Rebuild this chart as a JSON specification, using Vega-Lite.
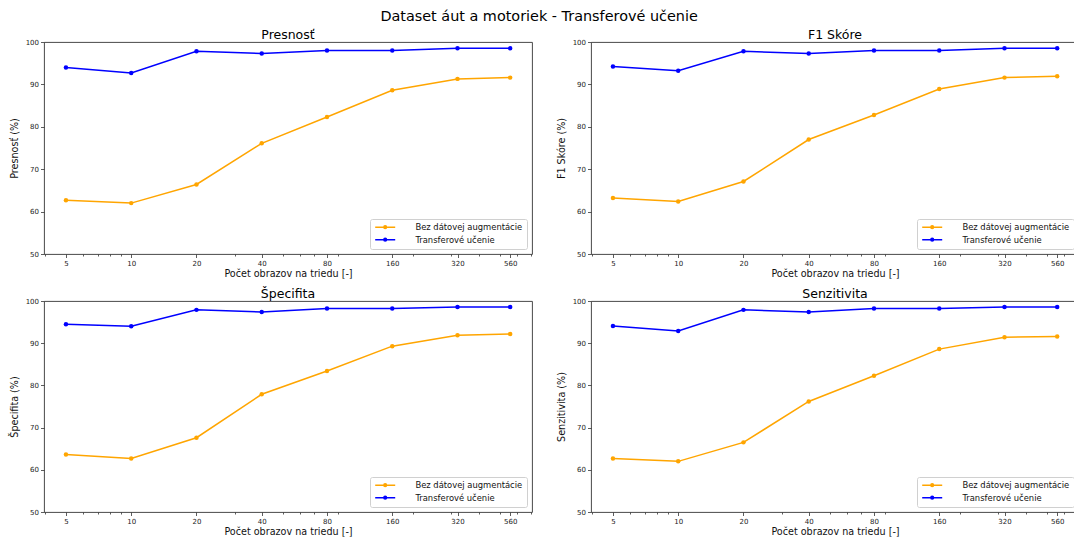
{
  "$schema": "https://vega.github.io/schema/vega-lite/v6.json",
  "background": "white",
  "padding": {"left": 8, "top": 8, "right": -4, "bottom": 2},
  "title": {"text": "Dataset áut a motoriek - Transferové učenie", "anchor": "middle", "fontSize": 14.4, "font": "DejaVu Sans", "fontWeight": "normal", "color": "#000", "offset": 4, "dx": -5},
  "datasets": {
    "d": [
      {"m": "Presnosť", "s": "Transferové učenie", "n": 5, "v": 94.0},
      {"m": "Presnosť", "s": "Transferové učenie", "n": 10, "v": 92.7},
      {"m": "Presnosť", "s": "Transferové učenie", "n": 20, "v": 97.8},
      {"m": "Presnosť", "s": "Transferové učenie", "n": 40, "v": 97.3},
      {"m": "Presnosť", "s": "Transferové učenie", "n": 80, "v": 98.0},
      {"m": "Presnosť", "s": "Transferové učenie", "n": 160, "v": 98.0},
      {"m": "Presnosť", "s": "Transferové učenie", "n": 320, "v": 98.5},
      {"m": "Presnosť", "s": "Transferové učenie", "n": 560, "v": 98.5},
      {"m": "Presnosť", "s": "Bez dátovej augmentácie", "n": 5, "v": 62.7},
      {"m": "Presnosť", "s": "Bez dátovej augmentácie", "n": 10, "v": 62.0},
      {"m": "Presnosť", "s": "Bez dátovej augmentácie", "n": 20, "v": 66.4},
      {"m": "Presnosť", "s": "Bez dátovej augmentácie", "n": 40, "v": 76.1},
      {"m": "Presnosť", "s": "Bez dátovej augmentácie", "n": 80, "v": 82.3},
      {"m": "Presnosť", "s": "Bez dátovej augmentácie", "n": 160, "v": 88.6},
      {"m": "Presnosť", "s": "Bez dátovej augmentácie", "n": 320, "v": 91.3},
      {"m": "Presnosť", "s": "Bez dátovej augmentácie", "n": 560, "v": 91.6},
      {"m": "F1 Skóre", "s": "Transferové učenie", "n": 5, "v": 94.2},
      {"m": "F1 Skóre", "s": "Transferové učenie", "n": 10, "v": 93.2},
      {"m": "F1 Skóre", "s": "Transferové učenie", "n": 20, "v": 97.8},
      {"m": "F1 Skóre", "s": "Transferové učenie", "n": 40, "v": 97.3},
      {"m": "F1 Skóre", "s": "Transferové učenie", "n": 80, "v": 98.0},
      {"m": "F1 Skóre", "s": "Transferové učenie", "n": 160, "v": 98.0},
      {"m": "F1 Skóre", "s": "Transferové učenie", "n": 320, "v": 98.5},
      {"m": "F1 Skóre", "s": "Transferové učenie", "n": 560, "v": 98.5},
      {"m": "F1 Skóre", "s": "Bez dátovej augmentácie", "n": 5, "v": 63.2},
      {"m": "F1 Skóre", "s": "Bez dátovej augmentácie", "n": 10, "v": 62.4},
      {"m": "F1 Skóre", "s": "Bez dátovej augmentácie", "n": 20, "v": 67.1},
      {"m": "F1 Skóre", "s": "Bez dátovej augmentácie", "n": 40, "v": 77.0},
      {"m": "F1 Skóre", "s": "Bez dátovej augmentácie", "n": 80, "v": 82.8},
      {"m": "F1 Skóre", "s": "Bez dátovej augmentácie", "n": 160, "v": 88.9},
      {"m": "F1 Skóre", "s": "Bez dátovej augmentácie", "n": 320, "v": 91.6},
      {"m": "F1 Skóre", "s": "Bez dátovej augmentácie", "n": 560, "v": 91.9},
      {"m": "Špecifita", "s": "Transferové učenie", "n": 5, "v": 94.5},
      {"m": "Špecifita", "s": "Transferové učenie", "n": 10, "v": 94.0},
      {"m": "Špecifita", "s": "Transferové učenie", "n": 20, "v": 97.9},
      {"m": "Špecifita", "s": "Transferové učenie", "n": 40, "v": 97.4},
      {"m": "Špecifita", "s": "Transferové učenie", "n": 80, "v": 98.2},
      {"m": "Špecifita", "s": "Transferové učenie", "n": 160, "v": 98.2},
      {"m": "Špecifita", "s": "Transferové učenie", "n": 320, "v": 98.6},
      {"m": "Špecifita", "s": "Transferové učenie", "n": 560, "v": 98.6},
      {"m": "Špecifita", "s": "Bez dátovej augmentácie", "n": 5, "v": 63.6},
      {"m": "Špecifita", "s": "Bez dátovej augmentácie", "n": 10, "v": 62.7},
      {"m": "Špecifita", "s": "Bez dátovej augmentácie", "n": 20, "v": 67.6},
      {"m": "Špecifita", "s": "Bez dátovej augmentácie", "n": 40, "v": 77.9},
      {"m": "Špecifita", "s": "Bez dátovej augmentácie", "n": 80, "v": 83.4},
      {"m": "Špecifita", "s": "Bez dátovej augmentácie", "n": 160, "v": 89.3},
      {"m": "Špecifita", "s": "Bez dátovej augmentácie", "n": 320, "v": 91.9},
      {"m": "Špecifita", "s": "Bez dátovej augmentácie", "n": 560, "v": 92.2},
      {"m": "Senzitivita", "s": "Transferové učenie", "n": 5, "v": 94.1},
      {"m": "Senzitivita", "s": "Transferové učenie", "n": 10, "v": 92.9},
      {"m": "Senzitivita", "s": "Transferové učenie", "n": 20, "v": 97.9},
      {"m": "Senzitivita", "s": "Transferové učenie", "n": 40, "v": 97.4},
      {"m": "Senzitivita", "s": "Transferové učenie", "n": 80, "v": 98.2},
      {"m": "Senzitivita", "s": "Transferové učenie", "n": 160, "v": 98.2},
      {"m": "Senzitivita", "s": "Transferové učenie", "n": 320, "v": 98.6},
      {"m": "Senzitivita", "s": "Transferové učenie", "n": 560, "v": 98.6},
      {"m": "Senzitivita", "s": "Bez dátovej augmentácie", "n": 5, "v": 62.7},
      {"m": "Senzitivita", "s": "Bez dátovej augmentácie", "n": 10, "v": 62.0},
      {"m": "Senzitivita", "s": "Bez dátovej augmentácie", "n": 20, "v": 66.5},
      {"m": "Senzitivita", "s": "Bez dátovej augmentácie", "n": 40, "v": 76.2},
      {"m": "Senzitivita", "s": "Bez dátovej augmentácie", "n": 80, "v": 82.3},
      {"m": "Senzitivita", "s": "Bez dátovej augmentácie", "n": 160, "v": 88.6},
      {"m": "Senzitivita", "s": "Bez dátovej augmentácie", "n": 320, "v": 91.4},
      {"m": "Senzitivita", "s": "Bez dátovej augmentácie", "n": 560, "v": 91.6}
    ]
  },
  "config": {
    "font": "DejaVu Sans",
    "view": {"stroke": "#333", "strokeWidth": 0.9},
    "title": {"font": "DejaVu Sans", "fontSize": 12.5, "fontWeight": "normal", "color": "#000", "offset": -3},
    "axis": {"labelFont": "DejaVu Sans", "titleFont": "DejaVu Sans", "labelFontSize": 7, "titleFontSize": 9.6, "titleFontWeight": "normal", "labelColor": "#222", "titleColor": "#111", "tickColor": "#333", "tickWidth": 0.8, "tickSize": 3.5, "domain": false, "grid": false, "labelPadding": 2},
    "axisX": {"titlePadding": 2},
    "axisY": {"titlePadding": 6},
    "legend": {
      "orient": "bottom-right", "offset": 5, "title": null,
      "fillColor": "white", "strokeColor": "#d0d0d0", "cornerRadius": 2, "padding": 4,
      "labelFont": "DejaVu Sans", "labelFontSize": 8.4, "labelColor": "#111",
      "symbolType": "M-1,0L5.67,0M1.88,0A0.45,0.45,0,1,1,2.78,0A0.45,0.45,0,1,1,1.88,0Z",
      "symbolSize": 36, "symbolStrokeWidth": 1.5, "labelOffset": 33, "rowPadding": 2.5
    }
  },
  "spacing": 8,
  "resolve": {"scale": {"color": "independent"}, "legend": {"color": "independent"}},
  "vconcat": [
    {
      "spacing": 22,
      "resolve": {"scale": {"color": "independent"}, "legend": {"color": "independent"}},
      "hconcat": [
        {
          "width": 488, "height": 212, "title": "Presnosť",
          "data": {"name": "d"},
          "transform": [{"filter": "datum.m === 'Presnosť'"}],
          "resolve": {"axis": {"x": "independent"}},
          "layer": [
            {"mark": {"type": "line", "strokeWidth": 1.5},
             "encoding": {
               "x": {"field": "n", "type": "quantitative", "scale": {"type": "log", "domain": [3.96, 706], "nice": false}, "axis": {"orient": "bottom", "values": [5, 10, 20, 40, 80, 160, 320, 560], "format": "d", "title": "Počet obrazov na triedu [-]"}},
               "y": {"field": "v", "type": "quantitative", "scale": {"domain": [50, 100], "nice": false, "zero": false}, "axis": {"values": [50, 60, 70, 80, 90, 100], "title": "Presnosť (%)"}},
               "color": {"field": "s", "type": "nominal", "scale": {"domain": ["Bez dátovej augmentácie", "Transferové učenie"], "range": ["#ffa500", "#0000ff"]}, "legend": {"encode": {"symbols": {"update": {"fill": {"signal": "datum.value === 'Transferové učenie' ? '#0000ff' : '#ffa500'"}, "stroke": {"signal": "datum.value === 'Transferové učenie' ? '#0000ff' : '#ffa500'"}, "opacity": {"value": 1}}}}}}
             }},
            {"mark": {"type": "point", "filled": true, "size": 20, "opacity": 1},
             "encoding": {
               "x": {"field": "n", "type": "quantitative", "axis": {"orient": "bottom", "values": [4, 6, 7, 8, 9, 30, 50, 60, 70, 90, 200, 300, 400, 500, 600, 700], "labels": false, "tickSize": 2, "title": null}},
               "y": {"field": "v", "type": "quantitative"},
               "color": {"field": "s", "type": "nominal"}
             }}
          ]
        },
        {
          "width": 488, "height": 212, "title": "F1 Skóre",
          "data": {"name": "d"},
          "transform": [{"filter": "datum.m === 'F1 Skóre'"}],
          "resolve": {"axis": {"x": "independent"}},
          "layer": [
            {"mark": {"type": "line", "strokeWidth": 1.5},
             "encoding": {
               "x": {"field": "n", "type": "quantitative", "scale": {"type": "log", "domain": [3.96, 706], "nice": false}, "axis": {"orient": "bottom", "values": [5, 10, 20, 40, 80, 160, 320, 560], "format": "d", "title": "Počet obrazov na triedu [-]"}},
               "y": {"field": "v", "type": "quantitative", "scale": {"domain": [50, 100], "nice": false, "zero": false}, "axis": {"values": [50, 60, 70, 80, 90, 100], "title": "F1 Skóre (%)"}},
               "color": {"field": "s", "type": "nominal", "scale": {"domain": ["Bez dátovej augmentácie", "Transferové učenie"], "range": ["#ffa500", "#0000ff"]}, "legend": {"encode": {"symbols": {"update": {"fill": {"signal": "datum.value === 'Transferové učenie' ? '#0000ff' : '#ffa500'"}, "stroke": {"signal": "datum.value === 'Transferové učenie' ? '#0000ff' : '#ffa500'"}, "opacity": {"value": 1}}}}}}
             }},
            {"mark": {"type": "point", "filled": true, "size": 20, "opacity": 1},
             "encoding": {
               "x": {"field": "n", "type": "quantitative", "axis": {"orient": "bottom", "values": [4, 6, 7, 8, 9, 30, 50, 60, 70, 90, 200, 300, 400, 500, 600, 700], "labels": false, "tickSize": 2, "title": null}},
               "y": {"field": "v", "type": "quantitative"},
               "color": {"field": "s", "type": "nominal"}
             }}
          ]
        }
      ]
    },
    {
      "spacing": 22,
      "resolve": {"scale": {"color": "independent"}, "legend": {"color": "independent"}},
      "hconcat": [
        {
          "width": 488, "height": 211, "title": "Špecifita",
          "data": {"name": "d"},
          "transform": [{"filter": "datum.m === 'Špecifita'"}],
          "resolve": {"axis": {"x": "independent"}},
          "layer": [
            {"mark": {"type": "line", "strokeWidth": 1.5},
             "encoding": {
               "x": {"field": "n", "type": "quantitative", "scale": {"type": "log", "domain": [3.96, 706], "nice": false}, "axis": {"orient": "bottom", "values": [5, 10, 20, 40, 80, 160, 320, 560], "format": "d", "title": "Počet obrazov na triedu [-]"}},
               "y": {"field": "v", "type": "quantitative", "scale": {"domain": [50, 100], "nice": false, "zero": false}, "axis": {"values": [50, 60, 70, 80, 90, 100], "title": "Špecifita (%)"}},
               "color": {"field": "s", "type": "nominal", "scale": {"domain": ["Bez dátovej augmentácie", "Transferové učenie"], "range": ["#ffa500", "#0000ff"]}, "legend": {"encode": {"symbols": {"update": {"fill": {"signal": "datum.value === 'Transferové učenie' ? '#0000ff' : '#ffa500'"}, "stroke": {"signal": "datum.value === 'Transferové učenie' ? '#0000ff' : '#ffa500'"}, "opacity": {"value": 1}}}}}}
             }},
            {"mark": {"type": "point", "filled": true, "size": 20, "opacity": 1},
             "encoding": {
               "x": {"field": "n", "type": "quantitative", "axis": {"orient": "bottom", "values": [4, 6, 7, 8, 9, 30, 50, 60, 70, 90, 200, 300, 400, 500, 600, 700], "labels": false, "tickSize": 2, "title": null}},
               "y": {"field": "v", "type": "quantitative"},
               "color": {"field": "s", "type": "nominal"}
             }}
          ]
        },
        {
          "width": 488, "height": 211, "title": "Senzitivita",
          "data": {"name": "d"},
          "transform": [{"filter": "datum.m === 'Senzitivita'"}],
          "resolve": {"axis": {"x": "independent"}},
          "layer": [
            {"mark": {"type": "line", "strokeWidth": 1.5},
             "encoding": {
               "x": {"field": "n", "type": "quantitative", "scale": {"type": "log", "domain": [3.96, 706], "nice": false}, "axis": {"orient": "bottom", "values": [5, 10, 20, 40, 80, 160, 320, 560], "format": "d", "title": "Počet obrazov na triedu [-]"}},
               "y": {"field": "v", "type": "quantitative", "scale": {"domain": [50, 100], "nice": false, "zero": false}, "axis": {"values": [50, 60, 70, 80, 90, 100], "title": "Senzitivita (%)"}},
               "color": {"field": "s", "type": "nominal", "scale": {"domain": ["Bez dátovej augmentácie", "Transferové učenie"], "range": ["#ffa500", "#0000ff"]}, "legend": {"encode": {"symbols": {"update": {"fill": {"signal": "datum.value === 'Transferové učenie' ? '#0000ff' : '#ffa500'"}, "stroke": {"signal": "datum.value === 'Transferové učenie' ? '#0000ff' : '#ffa500'"}, "opacity": {"value": 1}}}}}}
             }},
            {"mark": {"type": "point", "filled": true, "size": 20, "opacity": 1},
             "encoding": {
               "x": {"field": "n", "type": "quantitative", "axis": {"orient": "bottom", "values": [4, 6, 7, 8, 9, 30, 50, 60, 70, 90, 200, 300, 400, 500, 600, 700], "labels": false, "tickSize": 2, "title": null}},
               "y": {"field": "v", "type": "quantitative"},
               "color": {"field": "s", "type": "nominal"}
             }}
          ]
        }
      ]
    }
  ]
}
